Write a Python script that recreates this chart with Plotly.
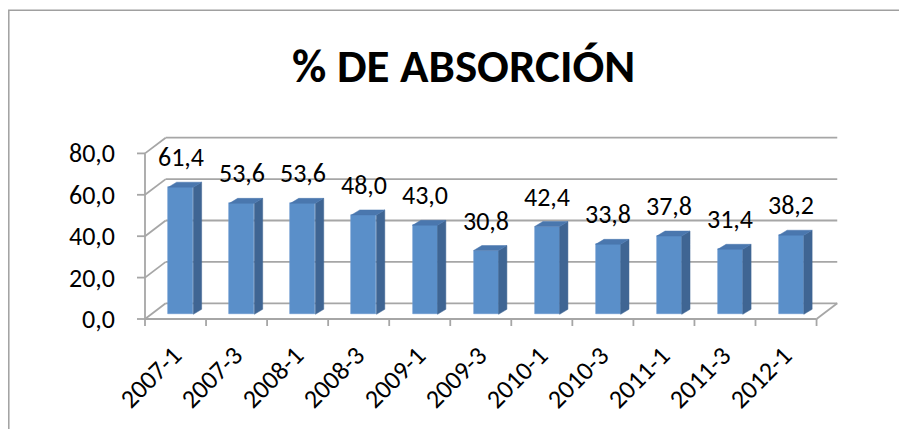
import plotly.graph_objects as go

# ---- data ----
categories = ["2007-1", "2007-3", "2008-1", "2008-3", "2009-1", "2009-3",
              "2010-1", "2010-3", "2011-1", "2011-3", "2012-1"]
values = [61.4, 53.6, 53.6, 48.0, 43.0, 30.8, 42.4, 33.8, 37.8, 31.4, 38.2]
y_ticks = [0, 20, 40, 60, 80]
y_tick_labels = ["0,0", "20,0", "40,0", "60,0", "80,0"]
title_text = "% DE ABSORCIÓN"

# ---- layout / 3D-look parameters ----
W, H = 907, 429
OFF = 8             # page body margin
PX = 61.05          # pixels per category
PY = 2.07           # pixels per y unit
X_LEFT_PX = 145 - OFF   # pixel of the front-left axis
Y_ZERO_PX = 319 - OFF   # pixel of y=0 on the front plane
x0 = -0.5 - X_LEFT_PX / PX
x1 = x0 + W / PX
y1 = Y_ZERO_PX / PY
y0 = (Y_ZERO_PX - H) / PY

DX = 20.7 / PX      # wall depth (x)
DY = 15.7 / PY      # wall depth (y)
BW = 25 / PX        # bar width
BSX = 5.3 / PX      # bar shift into depth (x)
BASE = 4.7 / PY     # bar base (depth shift y)
BDX = 8.3 / PX      # bar depth x
BDY = 5.0 / PY      # bar depth y

FONT = "Calibri, Carlito, Lato, sans-serif"
GRID = "#A6A6A6"
n = len(categories)
xl, xr = -0.5, n - 0.5

shapes = []

def seg(xa, ya, xb, yb, width=1.8):
    shapes.append(dict(type="line", xref="x", yref="y", x0=xa, y0=ya, x1=xb, y1=yb,
                       line=dict(color=GRID, width=width), layer="below"))

# back wall gridlines
for v in y_ticks:
    seg(xl + DX, v + DY, xr + DX, v + DY)
# side wall diagonals
for v in y_ticks:
    seg(xl, v, xl + DX, v + DY)
# front left axis, floor front edge, floor right diagonal
seg(xl, y_ticks[0], xl, y_ticks[-1])
seg(xl, 0, xr, 0)
seg(xr, 0, xr + DX, DY)
# y ticks
for v in y_ticks:
    seg(xl - 8 / PX, v, xl, v)
# x ticks
for k in range(n + 1):
    seg(xl + k, 0, xl + k, -7 / PY)

# outer chart frame
shapes.append(dict(type="rect", xref="paper", yref="paper", x0=0.8 / W, x1=1.2, y0=-0.2,
                   y1=1 - 2.2 / H, line=dict(color="#A0A0A0", width=1.5), layer="below"))

fig = go.Figure()

# bars: front faces
bx = [i + BSX for i in range(n)]
fig.add_trace(go.Bar(x=bx, y=values, base=BASE, width=BW,
                     marker=dict(color="#5A8FC9", line=dict(color="#6C9BD0", width=0.6)),
                     hoverinfo="skip", showlegend=False))

# side faces and top faces
sx, sy, tx, ty = [], [], [], []
for c, v in zip(bx, values):
    r = c + BW / 2
    l = c - BW / 2
    top = BASE + v
    sx += [r, r, r + BDX, r + BDX, r, None]
    sy += [BASE, top, top + BDY, BASE + BDY, BASE, None]
    tx += [l, r, r + BDX, l + BDX, l, None]
    ty += [top, top, top + BDY, top + BDY, top, None]
fig.add_trace(go.Scatter(x=sx, y=sy, mode="lines", fill="toself", fillcolor="#3F6593",
                         line=dict(color="#3F6593", width=0.5), hoverinfo="skip", showlegend=False))
fig.add_trace(go.Scatter(x=tx, y=ty, mode="lines", fill="toself", fillcolor="#4A77AE",
                         line=dict(color="#4A77AE", width=0.5), hoverinfo="skip", showlegend=False))

annotations = []
# data labels
for c, v in zip(bx, values):
    annotations.append(dict(x=c, y=BASE + v + BDY, xref="x", yref="y",
                            text=f"{v:.1f}".replace(".", ","), showarrow=False,
                            xanchor="center", yanchor="bottom", yshift=7,
                            font=dict(family=FONT, size=26, color="#000000")))
# y tick labels
for v, t in zip(y_ticks, y_tick_labels):
    annotations.append(dict(x=xl - 28 / PX, y=v, xref="x", yref="y", text=t, showarrow=False,
                            xanchor="right", yanchor="middle",
                            font=dict(family=FONT, size=26, color="#000000")))
# category labels
for i, cat in enumerate(categories):
    annotations.append(dict(x=i + 15.5 / PX, y=-18 / PY, xref="x", yref="y", text=cat,
                            showarrow=False, textangle=-45, xanchor="right", yanchor="top",
                            font=dict(family=FONT, size=26, color="#000000")))
# title
annotations.append(dict(x=(463.7 - OFF) / W, y=1 - (70 - OFF - 3.5) / H, xref="paper", yref="paper",
                        text=f"<b>{title_text}</b>", showarrow=False,
                        xanchor="center", yanchor="middle",
                        font=dict(family=FONT, size=47, color="#000000")))

fig.update_layout(
    width=W, height=H, autosize=False,
    margin=dict(l=0, r=0, t=0, b=0, pad=0),
    paper_bgcolor="white", plot_bgcolor="white",
    xaxis=dict(range=[x0, x1], visible=False, fixedrange=True),
    yaxis=dict(range=[y0, y1], visible=False, fixedrange=True),
    annotations=annotations,
    shapes=shapes,
    bargap=0,
)

fig.write_html("out.html")
